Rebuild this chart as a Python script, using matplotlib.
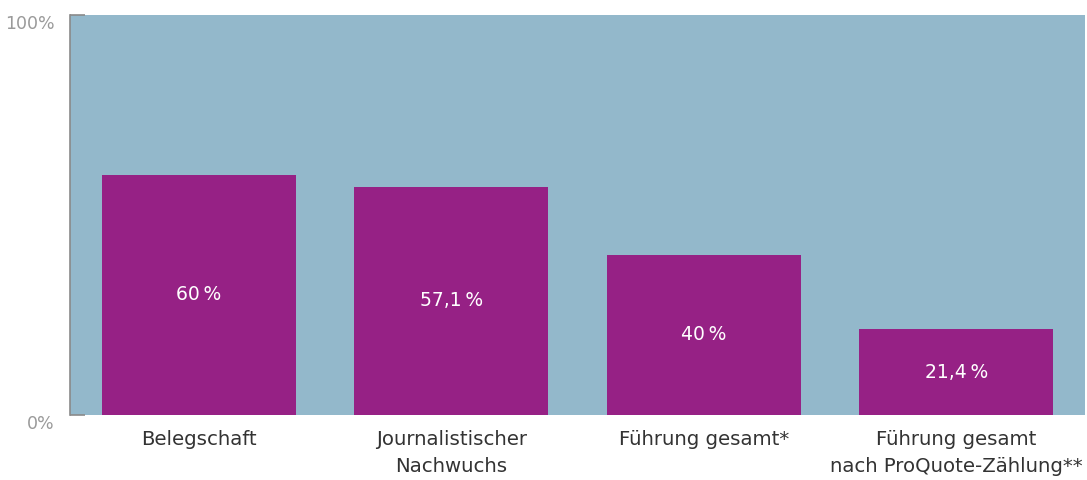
import matplotlib
matplotlib.use("Agg")
import matplotlib.pyplot as plt

categories = ["Belegschaft", "Journalistischer\nNachwuchs", "Führung gesamt*",
              "Führung gesamt\nnach ProQuote-Zählung**"]
values = [60.0, 57.1, 40.0, 21.4]
value_labels = ["60\u2009%", "57,1\u2009%", "40\u2009%", "21,4\u2009%"]
ytick_values = [0, 100]
ytick_labels = ["0%", "100%"]

plt.rcParams['font.family'] = ['DejaVu Sans']

fig = plt.figure(figsize=(10.87, 4.8), dpi=100)
ax = fig.add_axes([70/1087, 1-415/480, 1015/1087, 400/480])
ax.set_facecolor("#93b8cb")

x = list(range(len(categories)))
bars = ax.bar(x, values, width=0.77, color="#962185", zorder=2)
for xi, v, lab in zip(x, values, value_labels):
    ax.text(xi, v/2, lab, ha="center", va="center", color="white", fontsize=13.5, zorder=3)

ax.set_xlim(-0.51, 3.51)
ax.set_ylim(0, 100)
ax.set_xticks(x)
ax.set_xticklabels(categories, fontsize=14.2, color="#333333", linespacing=1.5)
ax.tick_params(axis="x", length=0, pad=11)
ax.set_yticks(ytick_values)
ax.set_yticklabels(ytick_labels, fontsize=12.5, color="#9a9a9a")
ax.tick_params(axis="y", direction="in", length=11, width=1.2, color="#8a8a8a", pad=11)
for t in ax.yaxis.get_major_ticks():
    t.label1.set_verticalalignment("top")
for s in ["top", "right", "bottom"]:
    ax.spines[s].set_visible(False)
ax.spines["left"].set_color("#8a8a8a")
ax.spines["left"].set_linewidth(1.2)

fig.savefig("out.png", dpi=100)
